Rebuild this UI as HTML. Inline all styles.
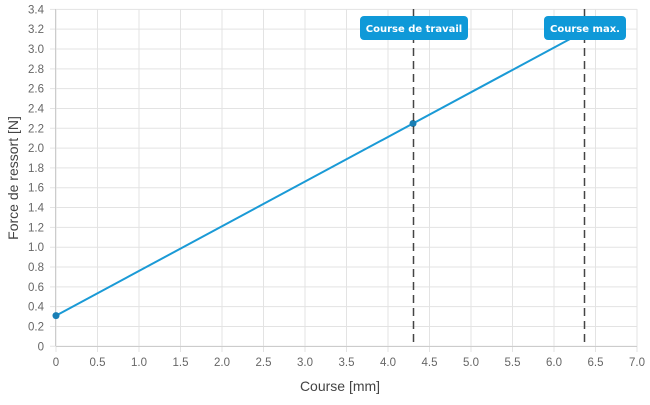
<!DOCTYPE html>
<html><head><meta charset="utf-8"><style>
body{margin:0;background:#fff;}
text{font-family:"Liberation Sans","DejaVu Sans",sans-serif;}
</style></head><body>
<svg width="650" height="400" xmlns="http://www.w3.org/2000/svg">
<g id="grid" stroke="#e3e3e3" stroke-width="1"></g>
<g id="labels" fill="#666" font-size="11.5"></g>
<line x1="56" y1="346.5" x2="637" y2="346.5" stroke="#ccc"/>
<line x1="55.5" y1="9" x2="55.5" y2="346" stroke="#ccc"/>
<line x1="56" y1="315.6" x2="583" y2="32" stroke="#1a9ad6" stroke-width="2"/>
<circle cx="56" cy="315.6" r="3.5" fill="#1a7fb5"/>
<circle cx="413" cy="123.5" r="3.5" fill="#1a7fb5"/>
<line x1="413.5" y1="9" x2="413.5" y2="346" stroke="#444" stroke-width="1.5" stroke-dasharray="8,5"/>
<line x1="584.5" y1="9" x2="584.5" y2="346" stroke="#444" stroke-width="1.5" stroke-dasharray="8,5"/>
<rect x="360" y="16" width="108" height="24" rx="4" fill="#0f99d8"/>
<text x="414" y="32" fill="#fff" font-size="10" font-weight="bold" text-anchor="middle" style="font-family:'DejaVu Sans',sans-serif">Course de travail</text>
<rect x="544" y="16" width="82" height="24" rx="4" fill="#0f99d8"/>
<text x="585" y="32" fill="#fff" font-size="10" font-weight="bold" text-anchor="middle" style="font-family:'DejaVu Sans',sans-serif">Course max.</text>
<text x="340" y="391" fill="#444" font-size="14" text-anchor="middle">Course [mm]</text>
<text transform="translate(18,178) rotate(-90)" fill="#444" font-size="14" text-anchor="middle">Force de ressort [N]</text>
</svg>
<script>
var g=document.getElementById('grid'),l=document.getElementById('labels'),ns='http://www.w3.org/2000/svg';
function el(p,t,a,txt){var e=document.createElementNS(ns,t);for(var k in a)e.setAttribute(k,a[k]);if(txt!=null)e.textContent=txt;p.appendChild(e);}
for(var i=0;i<=14;i++){var x=56+i*41.5;el(g,'line',{x1:x,y1:9,x2:x,y2:352});el(l,'text',{x:x,y:366,'text-anchor':'middle'},i==0?'0':(i*0.5).toFixed(1));}
for(var j=0;j<=17;j++){var y=346.3-j*19.82;el(g,'line',{x1:50,y1:y,x2:637,y2:y});el(l,'text',{x:44,y:y+4,'text-anchor':'end'},j==0?'0':(j*0.2).toFixed(1));}
</script>
</body></html>
